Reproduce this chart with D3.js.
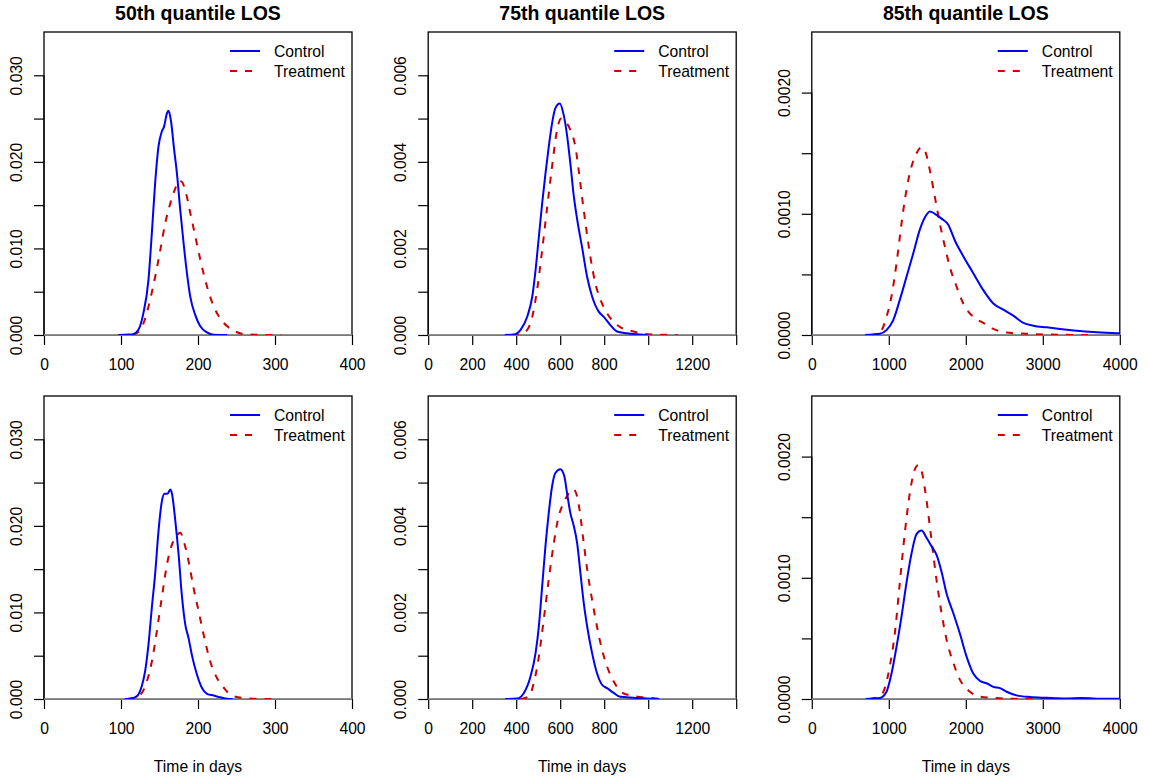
<html>
  <head>
    <title>LOS densities</title>
    <style>
      body { margin: 0; background: #fff; }
    </style>
  </head>
  <body>
  </body>

  <script src="https://d3js.org/d3.v7.min.js" charset="utf-8"></script>
  <script type="text/javascript">

// ---- data: [days, density] ----
var panelTitles = ['50th quantile LOS', '75th quantile LOS', '85th quantile LOS'];
var legendLabels = ['Control', 'Treatment'];
var xLabel = 'Time in days';

var xMax = [400, 1400, 4000];
var yMax = [0.035, 0.007, 0.0025];
var xTicks = [[0, 100, 200, 300, 400],
              [0, 200, 400, 600, 800, 1000, 1200, 1400],
              [0, 1000, 2000, 3000, 4000]];
var xTickLabels = [['0', '100', '200', '300', '400'],
                   ['0', '200', '400', '600', '800', '', '1200', ''],
                   ['0', '1000', '2000', '3000', '4000']];
var yTicks = [[0, 0.005, 0.010, 0.015, 0.020, 0.025, 0.030],
              [0, 0.001, 0.002, 0.003, 0.004, 0.005, 0.006],
              [0, 0.0005, 0.0010, 0.0015, 0.0020]];
var yTickLabels = [['0.000', '', '0.010', '', '0.020', '', '0.030'],
                   ['0.000', '', '0.002', '', '0.004', '', '0.006'],
                   ['0.0000', '', '0.0010', '', '0.0020']];

var ctrl50Top = [[97,0],[110,0.00005],[116,0.0001],[122.6,0.0006],[129,0.0025],[135.7,0.0064],[140,0.0117],[144.3,0.0175],[148.7,0.0218],[153,0.0235],[156,0.0241],[159.6,0.0256],[161.7,0.0259],[164.8,0.0248],[169,0.0214],[172.6,0.0187],[177,0.0144],[181.3,0.0106],[185.7,0.0071],[190,0.0044],[196.5,0.0023],[203,0.001],[211.7,0.0003],[220,0.00003],[238,0]];
var trt50Top = [[96,0],[110,0.00003],[120,0.0002],[129,0.0013],[135.7,0.0033],[144.3,0.0067],[151,0.0098],[157.4,0.0129],[164,0.0152],[170.4,0.0169],[174.8,0.0178],[179,0.0177],[183.5,0.0167],[190,0.0141],[196.5,0.0114],[203,0.0087],[211.7,0.0056],[220.4,0.0033],[229,0.0019],[238,0.001],[246.5,0.0005],[260,0.0001],[277,0.00002],[308,0]];

var ctrl75Top = [[348,0],[389,0.00001],[420,0.00012],[450,0.00042],[473,0.00089],[488,0.0015],[503,0.00227],[518,0.00304],[533,0.00373],[548,0.00435],[563,0.00489],[578,0.00524],[598,0.00535],[616,0.00508],[631,0.00462],[646,0.00397],[662,0.0032],[680,0.00258],[699,0.00204],[722,0.00135],[745,0.00089],[775,0.00054],[798,0.00042],[828,0.00023],[858,0.00008],[903,0.00004],[964,0.00001],[1000,0]];
var trt75Top = [[380,0],[420,0.00003],[450,0.00012],[473,0.00042],[495,0.00104],[518,0.00196],[541,0.00296],[563,0.00389],[586,0.00474],[604,0.005],[624,0.00493],[646,0.00474],[669,0.00435],[684,0.00381],[699,0.0032],[719,0.00243],[737,0.00181],[760,0.00119],[790,0.00073],[828,0.00039],[873,0.00018],[934,0.00008],[994,0.00002],[1134,0]];

var ctrl85Top = [[692,0],[883,0.00001],[970,0.00004],[1056,0.00012],[1143,0.00029],[1230,0.00048],[1316,0.00067],[1403,0.00087],[1468,0.00097],[1533,0.00102],[1598,0.001],[1685,0.00096],[1772,0.00091],[1858,0.00078],[1967,0.00065],[2097,0.00051],[2227,0.00037],[2357,0.00026],[2487,0.00021],[2617,0.00016],[2747,0.0001],[2877,0.000077],[3050,0.000063],[3224,0.00005],[3440,0.000036],[3657,0.000025],[4000,0.000014],[4300,0.000005]];
var trt85Top = [[735,0],[796,0.000003],[905,0.00004],[970,0.00015],[1035,0.00032],[1100,0.00059],[1165,0.00092],[1230,0.0012],[1295,0.00139],[1360,0.0015],[1425,0.00155],[1481,0.0015],[1533,0.00136],[1598,0.00114],[1663,0.00092],[1728,0.00073],[1793,0.00056],[1880,0.0004],[1967,0.00026],[2097,0.00015],[2227,0.0001],[2357,0.00005],[2530,0.00002],[2790,0.00001],[3224,0.000002],[3683,0]];

var ctrl50Bot = [[105,0],[111.7,0.00003],[120.4,0.0003],[127,0.0015],[131.3,0.0032],[135.7,0.0063],[140,0.0105],[144.3,0.0144],[148.7,0.0194],[153,0.0228],[156.5,0.0237],[160.4,0.0237],[164,0.0242],[166,0.0238],[170.4,0.0207],[174.8,0.0167],[179,0.012],[183.5,0.0086],[187.8,0.007],[192,0.0051],[198.7,0.0028],[205,0.0013],[211.7,0.0006],[220.4,0.0004],[229,0.0002],[237.8,0.00003],[245,0]];
var trt50Bot = [[107,0],[124.8,0.0005],[133.5,0.002],[140,0.0043],[146.5,0.0078],[153,0.0117],[159.6,0.0155],[166,0.0178],[171.7,0.0188],[177,0.0192],[182.2,0.018],[187.8,0.0159],[194.3,0.0128],[200.9,0.0101],[207.4,0.0074],[216,0.0043],[224.8,0.0024],[233.5,0.0013],[242,0.0005],[259.6,0.0001],[281,0.00001],[298,0]];

var ctrl75Bot = [[350,0],[404,0.00001],[435,0.00014],[465,0.00052],[488,0.00106],[503,0.00168],[518,0.0026],[533,0.00353],[548,0.0043],[563,0.00491],[578,0.00522],[601,0.00531],[619,0.00514],[631,0.00476],[646,0.0043],[662,0.00399],[677,0.0036],[692,0.00291],[707,0.00222],[725,0.0016],[745,0.00106],[767,0.0006],[790,0.00033],[813,0.00025],[843,0.00014],[873,0.00005],[934,0.00003],[994,0.00001],[1050,0]];
var trt75Bot = [[420,0],[457,0.00006],[480,0.00037],[503,0.00098],[525,0.00183],[548,0.00276],[571,0.0036],[593,0.00422],[616,0.00453],[639,0.00476],[659,0.00485],[677,0.00468],[692,0.00422],[707,0.0036],[725,0.00291],[745,0.00229],[767,0.00168],[790,0.00114],[813,0.00075],[843,0.00041],[873,0.00018],[919,0.00008],[979,0.00004],[1061,0]];

var ctrl85Bot = [[700,0],[883,0.000008],[970,0.00006],[1035,0.00021],[1100,0.00043],[1165,0.00068],[1230,0.00096],[1295,0.0012],[1360,0.00136],[1425,0.00139],[1490,0.00133],[1555,0.00126],[1620,0.00119],[1685,0.00105],[1750,0.00087],[1837,0.00071],[1923,0.00054],[2010,0.00035],[2097,0.00021],[2183,0.00015],[2270,0.00013],[2357,0.0001],[2444,0.00009],[2530,0.00006],[2660,0.00003],[2834,0.000016],[3050,0.00001],[3300,0.000005],[3500,0.000008],[3700,0.000003],[4000,0.000002],[4300,0]];
var trt85Bot = [[750,0],[883,0.00002],[948,0.00009],[1013,0.00027],[1078,0.00054],[1143,0.00096],[1208,0.00137],[1273,0.0017],[1330,0.00188],[1381,0.00193],[1434,0.00186],[1490,0.00164],[1555,0.00131],[1620,0.00098],[1685,0.00071],[1750,0.00049],[1837,0.0003],[1923,0.00016],[2053,0.00006],[2183,0.00002],[2357,0.00001],[2574,0.000002],[3400,0.000001],[3500,0.000006],[3600,0]];

// control / treatment per row and column
var controlSeries = [[ctrl50Top, ctrl75Top, ctrl85Top], [ctrl50Bot, ctrl75Bot, ctrl85Bot]];
var treatmentSeries = [[trt50Top, trt75Top, trt85Top], [trt50Bot, trt75Bot, trt85Bot]];

var w = 1150, h = 780;
var font = "'Liberation Sans', Arial, sans-serif";
var fs = 15.7;
var plotW = 308, plotH = 303;
var rowTop = [32, 396];
var colLeft = [44, 428.2, 811.8];

var svg = d3.select('body').append('svg')
    .attr('width', w)
    .attr('height', h)
    .style('background', '#fff');

var defs = svg.append('defs');

for (var r = 0; r < 2; r++) {
  for (var c = 0; c < 3; c++) {
    drawPanel(r, c);
  }
}

function drawPanel(r, c) {
  var left = colLeft[c], top = rowTop[r];
  var g = svg.append('g').attr('transform', 'translate(' + left + ',' + top + ')');

  var x = d3.scaleLinear().domain([0, xMax[c]]).range([0, plotW]);
  var y = d3.scaleLinear().domain([0, yMax[c]]).range([plotH, 0]);

  var clipId = 'clip' + r + c;
  defs.append('clipPath').attr('id', clipId)
    .append('rect').attr('width', plotW).attr('height', plotH);

  // x axis
  var xa = g.append('g')
      .attr('transform', 'translate(0,' + plotH + ')')
      .call(d3.axisBottom(x)
        .tickValues(xTicks[c])
        .tickSize(10)
        .tickSizeOuter(0)
        .tickFormat(function(d, i){ return xTickLabels[c][i]; }));
  styleAxis(xa);
  xa.selectAll('text').attr('y', 35).attr('dy', null);

  // y axis
  var ya = g.append('g')
      .call(d3.axisLeft(y)
        .tickValues(yTicks[c])
        .tickSize(10)
        .tickSizeOuter(0)
        .tickFormat(function(d, i){ return yTickLabels[c][i]; }));
  styleAxis(ya);
  ya.select('.domain').attr('d', 'M0,' + y(0) + 'V' + y(yTicks[c][yTicks[c].length - 1]));
  ya.selectAll('text')
    .attr('x', null).attr('y', null).attr('dy', null)
    .attr('text-anchor', 'middle')
    .attr('transform', 'translate(-22,0) rotate(-90)');

  // box
  g.append('rect')
    .attr('width', plotW).attr('height', plotH)
    .attr('fill', 'none').attr('stroke', '#000').attr('stroke-width', 1.3);

  // zero line
  g.append('line')
    .attr('x1', 0).attr('x2', plotW)
    .attr('y1', y(0)).attr('y2', y(0))
    .attr('stroke', '#a3a3a3').attr('stroke-width', 1.6);

  var line = d3.line()
    .x(function(d){ return x(d[0]); })
    .y(function(d){ return y(d[1]); })
    .curve(d3.curveMonotoneX);

  var lines = g.append('g').attr('clip-path', 'url(#' + clipId + ')');
  lines.append('path')
    .attr('d', line(treatmentSeries[r][c]))
    .attr('fill', 'none').attr('stroke', '#cd0000')
    .attr('stroke-width', 2).attr('stroke-dasharray', '7,8');
  lines.append('path')
    .attr('d', line(controlSeries[r][c]))
    .attr('fill', 'none').attr('stroke', '#0000ff')
    .attr('stroke-width', 2);

  // legend
  var lg = g.append('g');
  [0, 1].forEach(function(i){
    var ly = 19 + i * 20;
    lg.append('line')
      .attr('x1', 186).attr('x2', 216).attr('y1', ly).attr('y2', ly)
      .attr('stroke', i == 0 ? '#0000ff' : '#cd0000')
      .attr('stroke-width', 2)
      .attr('stroke-dasharray', i == 0 ? null : '7,8');
    lg.append('text')
      .attr('x', 230).attr('y', ly + 5.6)
      .style('font-family', font).style('font-size', fs + 'px')
      .text(legendLabels[i]);
  });

  if (r == 0) {
    g.append('text')
      .attr('x', plotW / 2).attr('y', -12)
      .attr('text-anchor', 'middle')
      .style('font-family', font).style('font-size', '19.5px').style('font-weight', 'bold')
      .text(panelTitles[c]);
  } else {
    g.append('text')
      .attr('x', plotW / 2).attr('y', plotH + 73)
      .attr('text-anchor', 'middle')
      .style('font-family', font).style('font-size', fs + 'px')
      .text(xLabel);
  }
}

function styleAxis(a) {
  a.attr('font-family', null).attr('font-size', null);
  a.selectAll('line').attr('stroke', '#000').attr('stroke-width', 1.2);
  a.select('.domain').attr('stroke', '#000').attr('stroke-width', 1.2);
  a.selectAll('text')
    .attr('fill', '#000')
    .style('font-family', font).style('font-size', fs + 'px');
}

  </script>
</html>
